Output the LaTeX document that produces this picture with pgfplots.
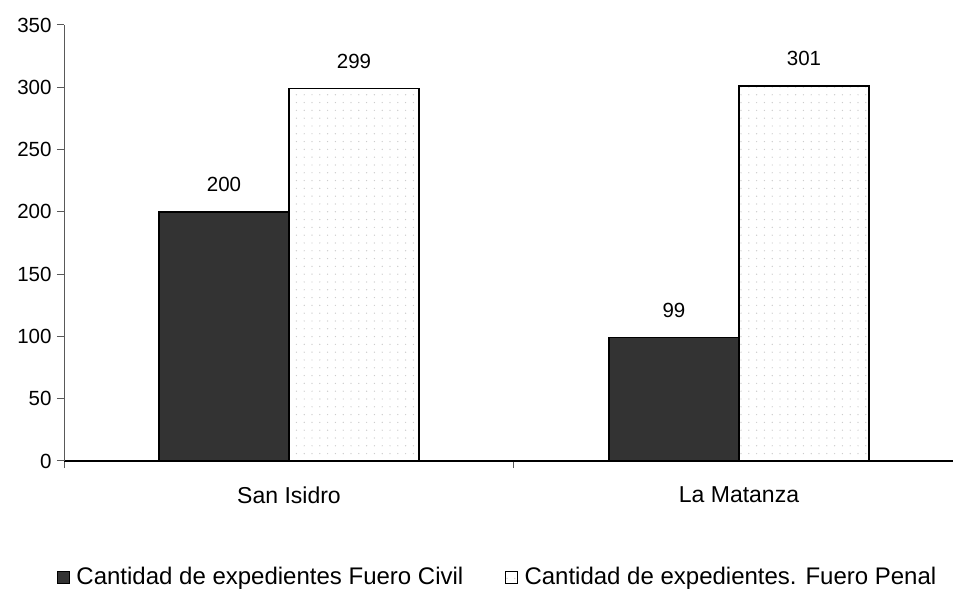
\documentclass[border=0pt]{standalone}
\usepackage{pgfplots}
\pgfplotsset{compat=1.18}
\usepackage{fontspec}
\setmainfont{Liberation Sans}
\usetikzlibrary{patterns.meta}
\definecolor{civil}{HTML}{333333}

\begin{document}
\begin{tikzpicture}
\begin{axis}[
  at={(64pt,133pt)}, anchor=south west,
  scale only axis, width=889pt, height=436pt,
  ybar=0pt, bar width=0.289,
  xmin=-0.5, xmax=1.4756, ymin=0, ymax=350,
  axis x line*=bottom, axis y line*=left,
  x axis line style={black, line width=1.3pt, -},
  y axis line style={gray!70!black, line width=1pt, -},
  xtick={0,1}, xticklabels={San Isidro, La Matanza},
  minor xtick={-0.5,0.5,1.5},
  ytick={0,50,...,350},
  tick align=outside,
  major tick length=7pt, minor tick length=7pt,
  x tick style={draw=none},
  minor x tick style={draw=gray!70!black, line width=1pt},
  y tick style={gray!70!black, line width=1pt},
  xticklabel style={yshift=-15pt, font=\fontsize{23}{27}\selectfont},
  yticklabel style={xshift=-2pt, font=\fontsize{20.5}{24}\selectfont},
  /pgf/number format/assume math mode=true,
  nodes near coords,
  every node near coord/.append style={font=\fontsize{20.5}{24}\selectfont, yshift=16pt, black},
  legend columns=2,
  legend style={draw=none, at={(0.488,0)}, anchor=center, yshift=-116pt,
    font=\fontsize{24}{28}\selectfont,
    /tikz/every even column/.append style={column sep=40pt}},
  legend image code/.code={\draw[#1, line width=0.8pt] (0pt,-6pt) rectangle (12pt,6pt);
    \path (16pt,0pt);},
]
\addplot[draw=black, line width=1.5pt, fill=civil]
  coordinates {(0,200) (1,99)};
\addlegendentry{Cantidad de expedientes Fuero Civil}
\addplot[draw=black, line width=1.5pt, pattern={Dots[radius=0.7pt, distance=7.8pt, angle=0]}, pattern color=gray!40]
  coordinates {(0,299) (1,301)};
\addlegendentry{Cantidad de expedientes. Fuero Penal}
\end{axis}
\pgfresetboundingbox
\path[use as bounding box] (0,0) rectangle (953pt,594pt);
\end{tikzpicture}
\end{document}
